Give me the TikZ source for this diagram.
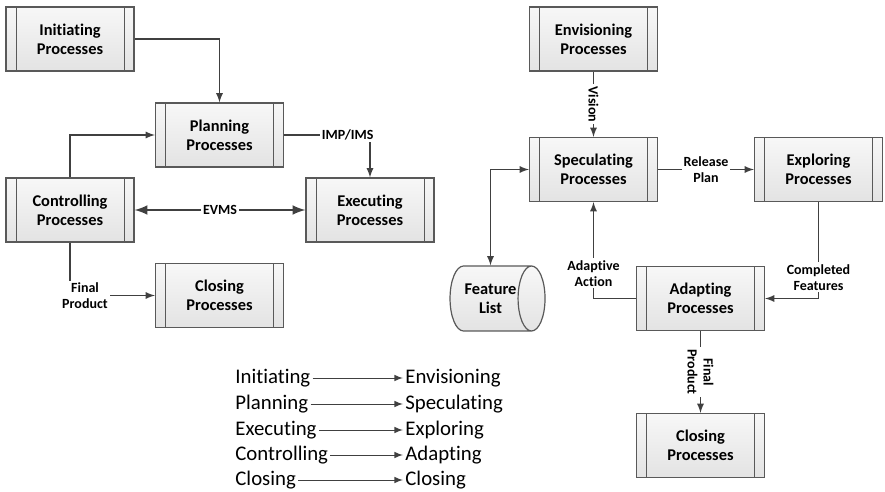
\documentclass[tikz,border=0pt]{standalone}
\usepackage{fontspec}
\setmainfont{Carlito}[Ligatures=NoCommon]
\usetikzlibrary{shapes.geometric,arrows}
\tikzset{
  proc/.style={rectangle,draw=black!65,line width=0.6pt,top color=gray!6,bottom color=gray!22,
    minimum width=64pt,minimum height=32pt,inner sep=0pt,align=center,
    font=\fontsize{8.2}{9.6}\selectfont\bfseries,
    path picture={\draw[black!65,line width=0.5pt]
      ([xshift=5pt]path picture bounding box.north west) -- ([xshift=5pt]path picture bounding box.south west)
      ([xshift=-5pt]path picture bounding box.north east) -- ([xshift=-5pt]path picture bounding box.south east);}},
  cyl/.style={cylinder,draw=black!65,line width=0.6pt,top color=gray!6,bottom color=gray!22,
    aspect=0.9,minimum width=32.5pt,minimum height=47.5pt,inner sep=0pt,align=center,
    font=\fontsize{8.2}{9.6}\selectfont\bfseries},
  lbl/.style={fill=white,inner sep=1pt,align=center,font=\fontsize{7}{8}\selectfont\bfseries},
  conn/.style={draw=black!75,line width=0.6pt,-latex},
  word/.style={anchor=west,inner sep=1pt,font=\fontsize{10.4}{12.5}\selectfont}
}
\begin{document}
\begin{tikzpicture}[x=0.5pt,y=-0.5pt]
\useasboundingbox (0,0) rectangle (885,492);
%
% waterfall side
\node[proc] (init) at (70,39) {Initiating\\Processes};
\node[proc] (plan) at (219.5,135) {Planning\\Processes};
\node[proc] (ctrl) at (70,210) {Controlling\\Processes};
\node[proc] (exec) at (370,210) {Executing\\Processes};
\node[proc] (closeL) at (219.5,295.5) {Closing\\Processes};
%
\draw[conn] (init.east) -| (plan.north);
\draw[conn] (plan.east) -| node[lbl,pos=0.37] {IMP/IMS} (exec.north);
\draw[conn] (ctrl.north) |- (plan.west);
\draw[conn,latex-latex,line width=1.2pt] (ctrl.east) -- node[lbl] {EVMS} (exec.west);
\draw[conn] (ctrl.south) |- node[lbl,pos=0.5,xshift=7.5pt] {Final\\Product} (closeL.west);
%
% adaptive side
\node[proc] (envi) at (593.5,39) {Envisioning\\Processes};
\node[proc] (spec) at (593.5,169.5) {Speculating\\Processes};
\node[proc] (expl) at (818.5,169.5) {Exploring\\Processes};
\node[cyl] (feat) at (490.5,298.5) {Feature\\List};
\node[proc] (adap) at (700.5,298.5) {Adapting\\Processes};
\node[proc] (closeR) at (700.5,445.5) {Closing\\Processes};
%
\draw[conn] (envi.south) -- node[lbl,rotate=-90] {Vision} (spec.north);
\draw[conn] (spec.east) -- node[lbl] {Release\\Plan} (expl.west);
\draw[conn,latex-latex] (feat.north) |- (spec.west);
\draw[conn] (adap.west) -| node[lbl,pos=0.63] {Adaptive\\Action} (spec.south);
\draw[conn] (expl.south) |- node[lbl,pos=0.39] {Completed\\Features} (adap.east);
\draw[conn] (adap.south) -- node[lbl,rotate=-90] {Final\\Product} (closeR.north);
%
% mapping
\node[word] (m1) at (233,378) {Initiating};
\node[word] (m2) at (233,404) {Planning};
\node[word] (m3) at (233,430) {Executing};
\node[word] (m4) at (233,455) {Controlling};
\node[word] (m5) at (233,480) {Closing};
\node[word] (n1) at (403,378) {Envisioning};
\node[word] (n2) at (403,404) {Speculating};
\node[word] (n3) at (403,430) {Exploring};
\node[word] (n4) at (403,455) {Adapting};
\node[word] (n5) at (403,480) {Closing};
\foreach \i in {1,...,5}
  \draw[black!75,line width=0.5pt,-latex] (m\i.east) -- (n\i.west);
\end{tikzpicture}
\end{document}
